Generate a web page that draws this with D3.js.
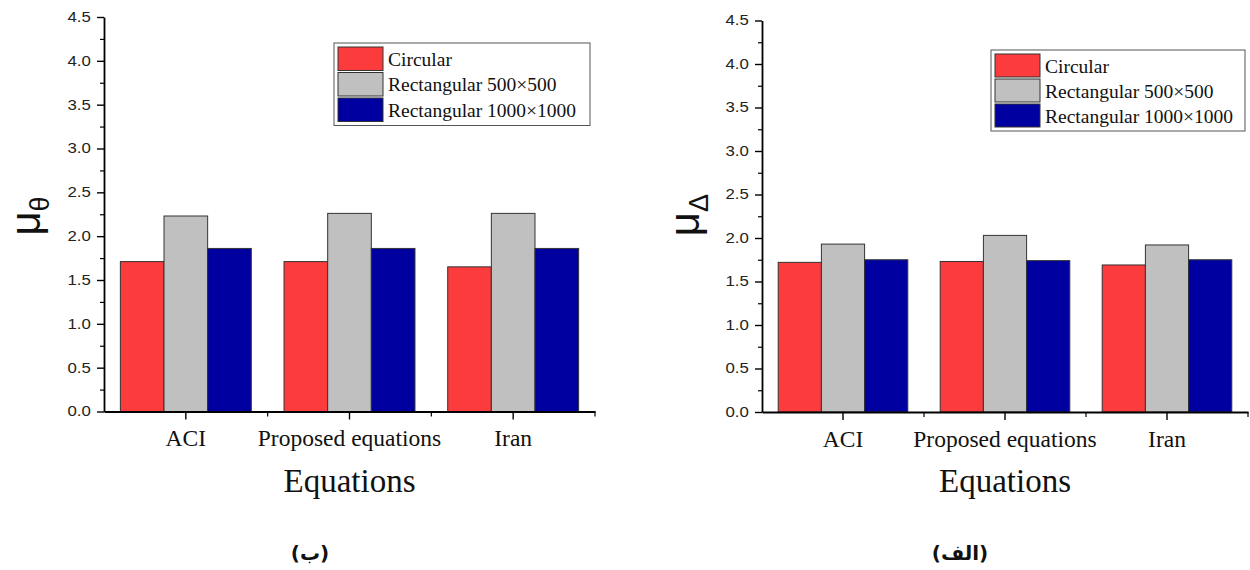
<!DOCTYPE html>
<html>
<head>
<meta charset="utf-8">
<script src="https://cdn.jsdelivr.net/npm/d3@7"></script>
<style>
  body { margin: 0; background: #fff; }
</style>
</head>
<body>
<svg id="chart" width="1250" height="570"></svg>
<script>
// data
var categories = ["ACI", "Proposed equations", "Iran"];
var seriesNames = ["Circular", "Rectangular 500\u00d7500", "Rectangular 1000\u00d71000"];
var seriesColors = ["#fc3c3c", "#c0c0c0", "#0000a0"];
var yTicks = [0, 0.5, 1, 1.5, 2, 2.5, 3, 3.5, 4, 4.5];

// left panel (mu theta)
var thetaCircular = [1.71, 1.71, 1.65];
var thetaRect500 = [2.23, 2.26, 2.26];
var thetaRect1000 = [1.86, 1.86, 1.86];

// right panel (mu delta)
var deltaCircular = [1.72, 1.73, 1.69];
var deltaRect500 = [1.93, 2.03, 1.92];
var deltaRect1000 = [1.75, 1.74, 1.75];

var serif = "'Liberation Serif', 'Times New Roman', serif";
var sans = "'Liberation Sans', Arial, sans-serif";

var svg = d3.select("#chart");

function drawChart(opts) {
    var g = svg.append("g");
    var series = opts.series;

    var x = d3.scaleBand()
        .domain(categories)
        .range([opts.left, opts.right]);
    var x1 = d3.scaleBand()
        .domain(d3.range(series.length))
        .range([0, x.bandwidth()])
        .paddingOuter(0.375)
        .paddingInner(0);
    var y = d3.scaleLinear()
        .domain([0, 4.5])
        .range([opts.bottom, opts.top]);

    // bars
    series.forEach(function (vals, s) {
        g.selectAll(null)
            .data(vals)
            .enter()
            .append("rect")
            .attr("x", function (d, i) { return x(categories[i]) + x1(s); })
            .attr("y", function (d) { return y(d); })
            .attr("width", x1.bandwidth())
            .attr("height", function (d) { return y(0) - y(d); })
            .attr("fill", seriesColors[s])
            .attr("stroke", "#333")
            .attr("stroke-width", 1);
    });

    // y axis with minor ticks
    var minor = d3.range(0, 4.51, 0.25).filter(function (v) { return Math.abs(v * 2 - Math.round(v * 2)) > 0.01; });
    g.append("g")
        .attr("transform", "translate(" + opts.left + ",0)")
        .call(d3.axisLeft(y).tickValues(minor).tickSize(4).tickFormat(""))
        .call(function (a) { a.select(".domain").remove(); a.selectAll("line").attr("stroke-width", 1.2); });
    var yAxis = g.append("g")
        .attr("transform", "translate(" + opts.left + ",0)")
        .call(d3.axisLeft(y).tickValues(yTicks).tickSize(7).tickSizeOuter(0).tickPadding(4)
            .tickFormat(d3.format(".1f")));
    yAxis.select(".domain").attr("stroke-width", 1.8);
    yAxis.selectAll("line").attr("stroke-width", 1.4);
    yAxis.selectAll("text")
        .attr("font-family", sans)
        .attr("font-size", 14)
        .attr("transform", "scale(1.2,1)")
        .attr("fill", "#222");

    // x axis: major ticks at category centres, minor at band edges
    g.append("g")
        .attr("transform", "translate(0," + opts.bottom + ")")
        .call(d3.axisBottom(x).tickSize(5).tickSizeOuter(0).tickFormat("")
            .tickValues(categories))
        .call(function (a) {
            a.select(".domain").remove();
            a.selectAll(".tick").attr("transform", function (d) {
                return "translate(" + (x(d) + x.bandwidth()) + ",0)";
            });
            a.selectAll("line").attr("stroke-width", 1.2);
        });
    var xAxis = g.append("g")
        .attr("transform", "translate(0," + opts.bottom + ")")
        .call(d3.axisBottom(x).tickSize(8).tickSizeOuter(0).tickPadding(10));
    xAxis.select(".domain").attr("stroke-width", 1.8);
    xAxis.selectAll("line").attr("stroke-width", 1.4);
    xAxis.selectAll("text")
        .attr("font-family", serif)
        .attr("font-size", 23.5)
        .attr("fill", "#111");

    // axis titles
    g.append("text")
        .attr("x", (opts.left + opts.right) / 2)
        .attr("y", opts.bottom + 80)
        .attr("text-anchor", "middle")
        .attr("font-family", serif)
        .attr("font-size", 33)
        .attr("fill", "#111")
        .text("Equations");

    var yl = g.append("text")
        .attr("transform", "translate(" + opts.ylabX + "," + opts.ylabY + ") rotate(-90)")
        .attr("text-anchor", "middle")
        .attr("font-family", sans)
        .attr("fill", "#111");
    yl.append("tspan").attr("font-size", 42).text("\u03bc");
    yl.append("tspan").attr("font-size", 27).attr("dy", 9).text(opts.sub);

    // legend
    var lg = g.append("g").attr("transform", "translate(" + opts.legX + "," + opts.legY + ")");
    lg.append("rect")
        .attr("width", opts.legW)
        .attr("height", 3 * opts.rowH + 6)
        .attr("fill", "#fff")
        .attr("stroke", "#555")
        .attr("stroke-width", 1);
    seriesNames.forEach(function (name, s) {
        lg.append("rect")
            .attr("x", 4)
            .attr("y", 4 + s * opts.rowH)
            .attr("width", 45)
            .attr("height", opts.rowH - 2)
            .attr("fill", seriesColors[s])
            .attr("stroke", "#333")
            .attr("stroke-width", 1);
        lg.append("text")
            .attr("x", 54)
            .attr("y", 3 + s * opts.rowH + opts.rowH / 2 + 7)
            .attr("font-family", serif)
            .attr("font-size", 19.5)
            .attr("fill", "#111")
            .text(name);
    });

    // panel caption
    g.append("text")
        .attr("x", opts.capX)
        .attr("y", 560)
        .attr("text-anchor", "middle")
        .attr("font-family", "'DejaVu Sans', sans-serif")
        .attr("font-weight", "bold")
        .attr("font-size", 20)
        .attr("fill", "#111")
        .text(opts.caption);
}

drawChart({
    series: [thetaCircular, thetaRect500, thetaRect1000],
    left: 104, right: 595, top: 17, bottom: 411.5,
    ylabX: 40, ylabY: 216, sub: "\u03b8",
    legX: 334, legY: 43, legW: 256, rowH: 25.5,
    capX: 310, caption: "(\u0628)"
});

drawChart({
    series: [deltaCircular, deltaRect500, deltaRect1000],
    left: 762, right: 1248, top: 20.5, bottom: 412,
    ylabX: 699, ylabY: 215, sub: "\u0394",
    legX: 991, legY: 50, legW: 254, rowH: 25,
    capX: 960, caption: "(\u0627\u0644\u0641)"
});
</script>
</body>
</html>
